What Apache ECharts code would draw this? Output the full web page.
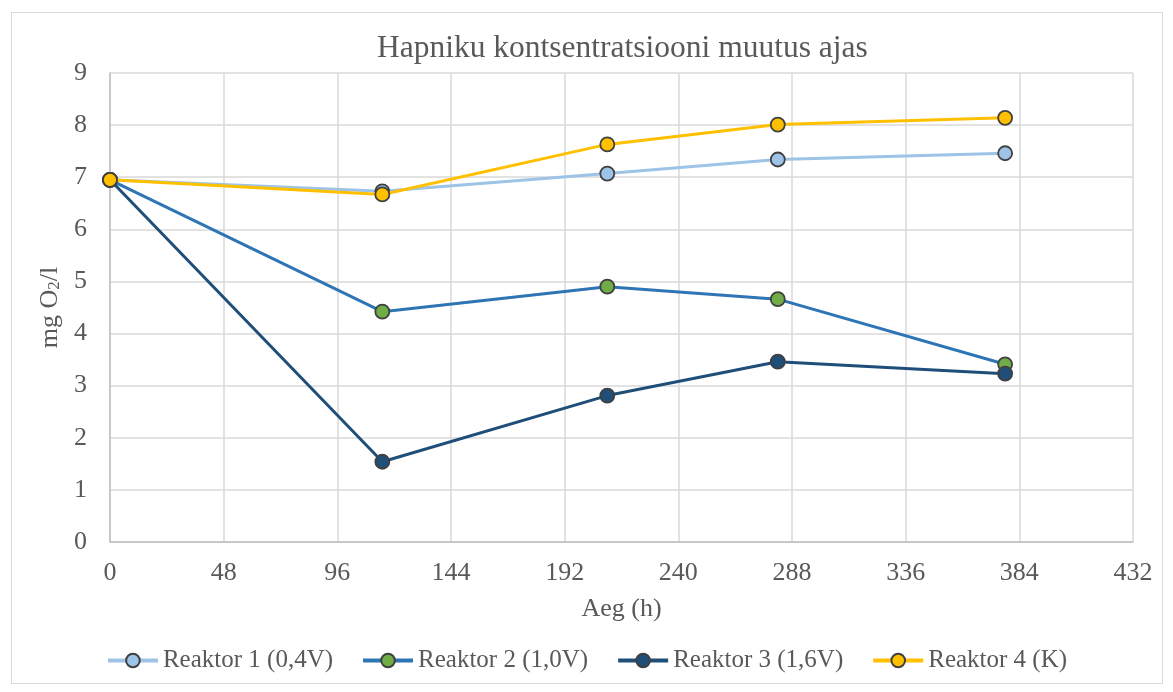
<!DOCTYPE html>
<html>
<head>
<meta charset="utf-8">
<script src="https://cdn.jsdelivr.net/npm/echarts@6/dist/echarts.min.js"></script>
<style>
  html, body { margin: 0; padding: 0; background: #fff; }
  #frame { position: absolute; left: 11px; top: 12px; width: 1152px; height: 672px; border: 1px solid #d9d9d9; box-sizing: border-box; }
  #chart { width: 1173px; height: 692px; }
</style>
</head>
<body>
<div id="frame"></div>
<div id="chart"></div>
<script>
'use strict';

var hours = [0, 115, 210, 282, 378];
var reaktor1 = [6.95, 6.73, 7.07, 7.34, 7.46];
var reaktor2 = [6.95, 4.42, 4.90, 4.66, 3.41];
var reaktor3 = [6.95, 1.54, 2.81, 3.46, 3.23];
var reaktor4 = [6.95, 6.67, 7.63, 8.01, 8.14];
var names = ['Reaktor 1 (0,4V)', 'Reaktor 2 (1,0V)', 'Reaktor 3 (1,6V)', 'Reaktor 4 (K)'];
var lineColors = ['#9dc3e6', '#2e75b6', '#1f4e79', '#ffc000'];
var dotColors = ['#9dc3e6', '#70ad47', '#1f4e79', '#ffc000'];

var font = 'Liberation Serif, Times New Roman, serif';
var txt = '#595959';

function pairs(ys){
  return hours.map(function(h, i){ return [h, ys[i]]; });
}

function makeSeries(idx, ys){
  return {
    name: names[idx],
    type: 'line',
    data: pairs(ys),
    symbol: 'circle',
    symbolSize: 14,
    lineStyle: { color: lineColors[idx], width: 3 },
    itemStyle: { color: dotColors[idx], borderColor: '#404040', borderWidth: 1.8 },
    emphasis: { disabled: true },
    z: 2 + idx
  };
}

var chart = echarts.init(document.getElementById('chart'));
var option = {
  animation: false,
  title: {
    text: 'Hapniku kontsentratsiooni muutus ajas',
    left: 372,
    top: 28,
    textStyle: { fontFamily: font, fontSize: 31.5, fontWeight: 'normal', color: txt }
  },
  grid: { left: 110, right: 40, top: 73, bottom: 150, containLabel: false },
  xAxis: {
    type: 'value',
    min: 0, max: 432, interval: 48,
    name: 'Aeg (h)',
    nameLocation: 'middle',
    nameGap: 54,
    nameTextStyle: { fontFamily: font, fontSize: 26, color: txt },
    axisLine: { lineStyle: { color: '#bfbfbf', width: 1.5 } },
    axisTick: { show: false },
    axisLabel: { fontFamily: font, fontSize: 26, color: txt, margin: 18 },
    splitLine: { lineStyle: { color: '#d9d9d9', width: 1.5 } }
  },
  yAxis: {
    type: 'value',
    min: 0, max: 9, interval: 1,
    name: 'mg O{s|2}/l',
    nameLocation: 'middle',
    nameGap: 43,
    nameTextStyle: {
      fontFamily: font, fontSize: 26, color: txt,
      rich: { s: { fontFamily: font, fontSize: 17, color: txt, verticalAlign: 'bottom', padding: [9, 0, 0, 0] } }
    },
    axisLine: { show: true, lineStyle: { color: '#bfbfbf', width: 1.5 } },
    axisTick: { show: false },
    axisLabel: { fontFamily: font, fontSize: 26, color: txt, margin: 23 },
    splitLine: { lineStyle: { color: '#d9d9d9', width: 1.5 } }
  },
  legend: {
    bottom: 14,
    left: 'center',
    itemWidth: 50,
    itemHeight: 17,
    itemGap: 28,
    lineStyle: { width: 4 },
    textStyle: { fontFamily: font, fontSize: 25, color: txt },
    data: names
  },
  series: [
    makeSeries(0, reaktor1),
    makeSeries(1, reaktor2),
    makeSeries(2, reaktor3),
    makeSeries(3, reaktor4)
  ]
};
chart.setOption(option);
</script>
</body>
</html>
